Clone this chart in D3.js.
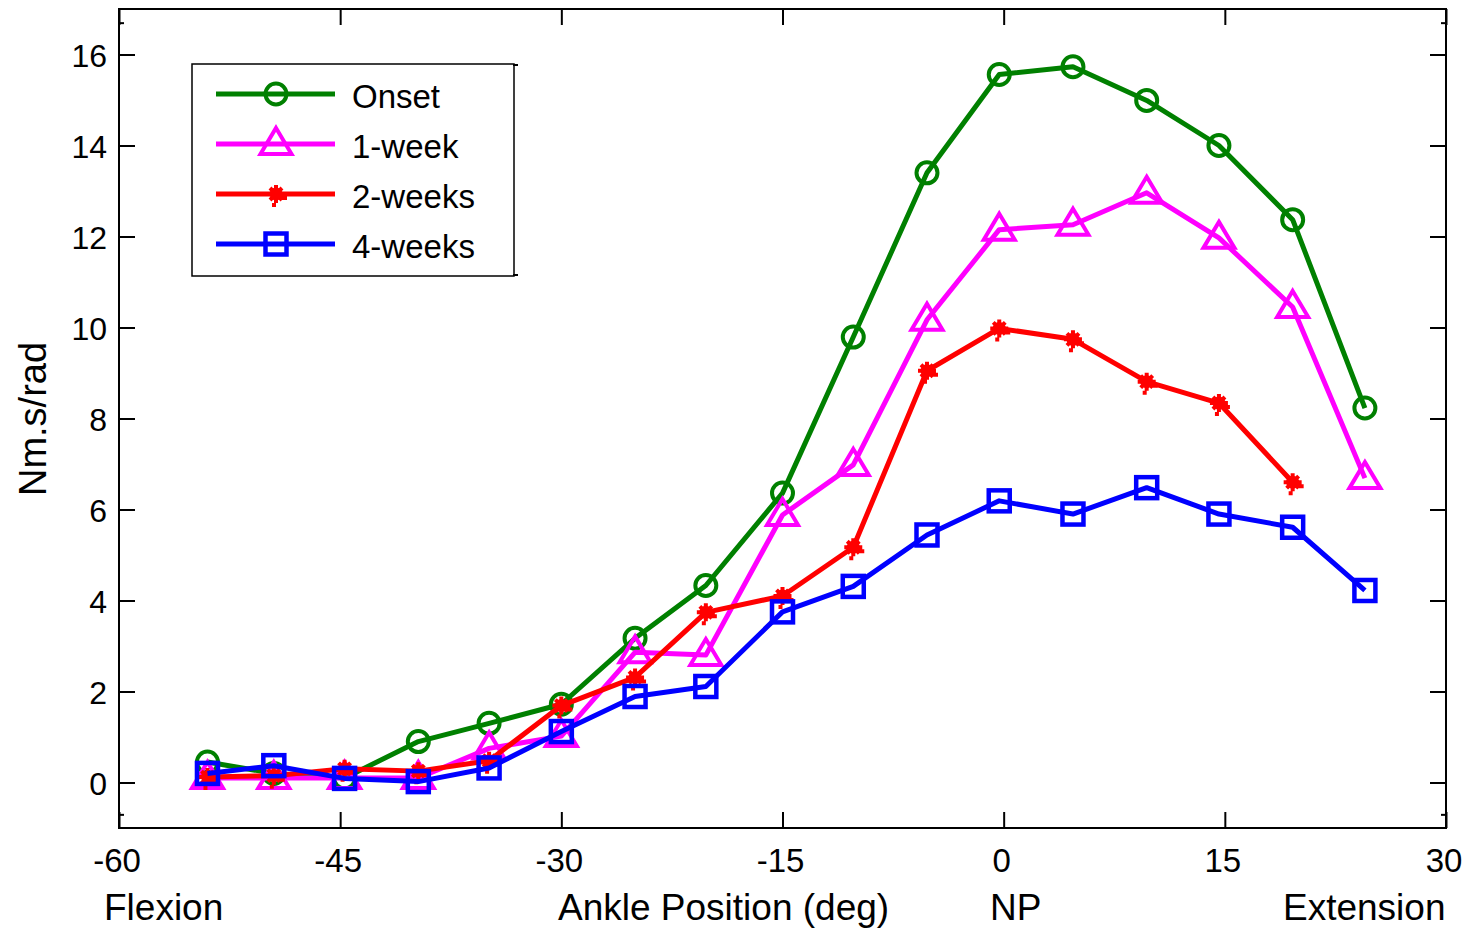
<!DOCTYPE html>
<html>
<head>
<meta charset="utf-8">
<script src="https://cdn.jsdelivr.net/npm/d3@7"></script>
<style>
  body { margin: 0; background: #fff; }
  text { font-family: "Liberation Sans", Arial, sans-serif; fill: #000; }
</style>
</head>
<body>
<div id="chart"></div>
<script>
// ankle positions (deg)
const anglesDeg = [-54, -49.5, -44.7, -39.7, -34.9, -30, -25, -20.2, -15, -10.2, -5.2, -0.3, 4.7, 9.7, 14.6, 19.6, 24.5];

// stiffness per visit (Nm.s/rad)
const onset = [0.45, 0.2, 0.1, 0.9, 1.3, 1.72, 3.17, 4.33, 6.36, 9.79, 13.4, 15.56, 15.73, 14.99, 14.0, 12.37, 8.23];
const week1 = [0.1, 0.1, 0.1, 0.1, 0.75, 1.02, 2.86, 2.8, 5.88, 6.98, 10.17, 12.15, 12.26, 12.96, 11.97, 10.45, 6.69];
const weeks2 = [0.12, 0.15, 0.3, 0.25, 0.48, 1.69, 2.31, 3.74, 4.1, 5.17, 9.05, 9.98, 9.74, 8.81, 8.34, 6.6];
const weeks4 = [0.2, 0.37, 0.09, 0.02, 0.32, 1.12, 1.89, 2.11, 3.75, 4.31, 5.44, 6.19, 5.9, 6.48, 5.9, 5.61, 4.22];

const seriesNames = ["Onset", "1-week", "2-weeks", "4-weeks"];
const seriesValues = [onset, week1, weeks2, weeks4];
const seriesColors = ["#008000", "#ff00ff", "#ff0000", "#0000ff"];
const seriesMarkers = ["circle", "triangle", "star", "square"];

const xTicks = [-60, -45, -30, -15, 0, 15, 30];
const yTicks = [0, 2, 4, 6, 8, 10, 12, 14, 16];
const yExtraTicks = [-0.7, 16.7];

const width = 1470, height = 929;
const m = { left: 119, right: 1446, top: 9, bottom: 828 };

const svg = d3.select("#chart").append("svg")
  .attr("width", width)
  .attr("height", height);

const x = d3.scaleLinear().domain([-60, 30]).range([m.left, m.right]);
const y = d3.scaleLinear().domain([-1, 17]).range([m.bottom, m.top]);

//ticks inside on all four sides
const tickLen = 16;
svg.append("g").attr("transform", `translate(0,${m.bottom})`)
  .call(d3.axisBottom(x).tickValues(xTicks).tickSize(-tickLen).tickFormat(""))
  .call(g => g.select(".domain").remove());
svg.append("g").attr("transform", `translate(0,${m.top})`)
  .call(d3.axisTop(x).tickValues(xTicks).tickSize(-tickLen).tickFormat(""))
  .call(g => g.select(".domain").remove());
svg.append("g").attr("transform", `translate(${m.left},0)`)
  .call(d3.axisLeft(y).tickValues(yTicks).tickSize(-tickLen).tickFormat(""))
  .call(g => g.select(".domain").remove());
svg.append("g").attr("transform", `translate(${m.right},0)`)
  .call(d3.axisRight(y).tickValues(yTicks).tickSize(-tickLen).tickFormat(""))
  .call(g => g.select(".domain").remove());
svg.append("g").attr("transform", `translate(${m.left},0)`)
  .call(d3.axisLeft(y).tickValues(yExtraTicks).tickSize(-5).tickFormat(""))
  .call(g => g.select(".domain").remove());
svg.append("g").attr("transform", `translate(${m.right},0)`)
  .call(d3.axisRight(y).tickValues(yExtraTicks).tickSize(-5).tickFormat(""))
  .call(g => g.select(".domain").remove());
svg.selectAll(".tick line").attr("stroke", "#000").attr("stroke-width", 2);

//tick labels
svg.append("g").selectAll("text")
  .data(xTicks).join("text")
  .attr("x", d => x(d) - 2)
  .attr("y", 872)
  .attr("text-anchor", "middle")
  .style("font-size", "33px")
  .text(d => d);
svg.append("g").selectAll("text")
  .data(yTicks).join("text")
  .attr("x", 107)
  .attr("y", d => y(d) + 12)
  .attr("text-anchor", "end")
  .style("font-size", "32px")
  .text(d => d);

//frame
svg.append("rect")
  .attr("x", m.left).attr("y", m.top)
  .attr("width", m.right - m.left).attr("height", m.bottom - m.top)
  .attr("fill", "none").attr("stroke", "#000").attr("stroke-width", 2);

//axis labels
const xLabels = [["Flexion", 104], ["Ankle Position (deg)", 558], ["NP", 990], ["Extension", 1283]];
svg.append("g").selectAll("text")
  .data(xLabels).join("text")
  .attr("x", d => d[1])
  .attr("y", 920)
  .style("font-size", "37px")
  .text(d => d[0]);
svg.append("text")
  .attr("transform", "translate(46,419) rotate(-90)")
  .attr("text-anchor", "middle")
  .style("font-size", "38px")
  .text("Nm.s/rad");

//marker drawing
const drawMarker = (g, type, color) => {
  if (type === "circle") {
    g.append("circle").attr("r", 10.5).attr("fill", "none")
      .attr("stroke", color).attr("stroke-width", 4);
  } else if (type === "triangle") {
    g.append("path").attr("d", "M0,-16L15.5,10L-15.5,10Z").attr("fill", "none")
      .attr("stroke", color).attr("stroke-width", 4);
  } else if (type === "square") {
    g.append("rect").attr("x", -10.5).attr("y", -10.5)
      .attr("width", 21).attr("height", 21).attr("fill", "none")
      .attr("stroke", color).attr("stroke-width", 4.5);
  } else {
    g.append("path")
      .attr("d", "M-9,0H9M0,-9V9M-6,-6L6,6M-6,6L6,-6M5,4H11M-2,9V13")
      .attr("fill", "none").attr("stroke", color).attr("stroke-width", 4);
    g.append("circle").attr("r", 6.5).attr("fill", color);
  }
};

//series lines + markers
const line = d3.line().x(d => x(d[0])).y(d => y(d[1]));
seriesValues.forEach((vals, i) => {
  const pts = vals.map((v, j) => [anglesDeg[j], v]);
  svg.append("path")
    .datum(pts)
    .attr("d", line)
    .attr("fill", "none")
    .attr("stroke", seriesColors[i])
    .attr("stroke-width", 5)
    .attr("stroke-linejoin", "round");
  svg.append("g").selectAll("g")
    .data(pts).join("g")
    .attr("transform", d => `translate(${x(d[0])},${y(d[1])})`)
    .each(function () { drawMarker(d3.select(this), seriesMarkers[i], seriesColors[i]); });
});

//legend
const lg = svg.append("g");
lg.append("rect")
  .attr("x", 192).attr("y", 64).attr("width", 322).attr("height", 212)
  .attr("fill", "#fff").attr("stroke", "#000").attr("stroke-width", 1.5);
lg.append("path").attr("d", "M513,65H518M513,275H518").attr("stroke", "#000").attr("stroke-width", 2);
seriesNames.forEach((name, i) => {
  const ly = 94 + i * 50;
  lg.append("line")
    .attr("x1", 216).attr("x2", 335).attr("y1", ly).attr("y2", ly)
    .attr("stroke", seriesColors[i]).attr("stroke-width", 5);
  const mg = lg.append("g").attr("transform", `translate(276,${ly})`);
  drawMarker(mg, seriesMarkers[i], seriesColors[i]);
  lg.append("text")
    .attr("x", 352).attr("y", ly + 14)
    .style("font-size", "33px")
    .text(name);
});
</script>
</body>
</html>
